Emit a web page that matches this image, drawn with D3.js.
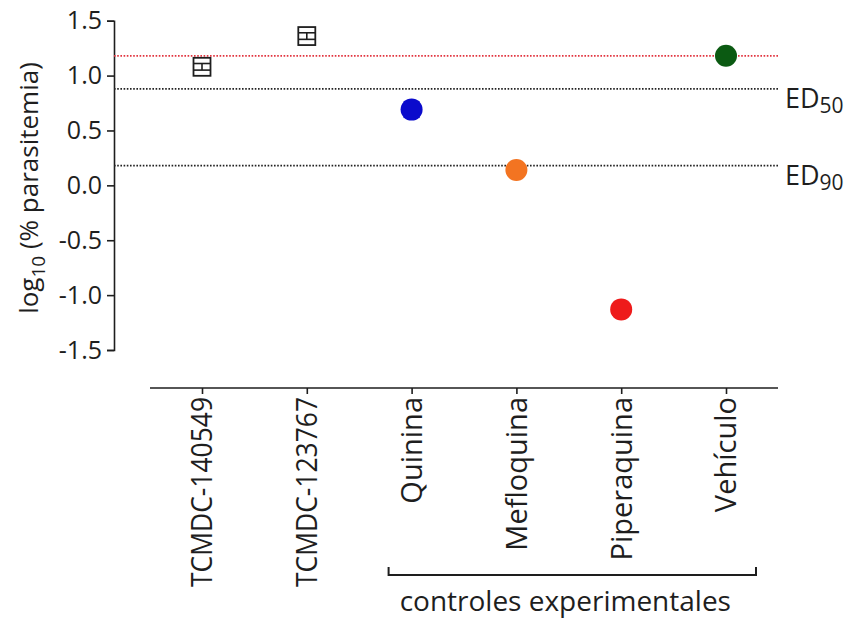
<!DOCTYPE html>
<html>
<head>
<meta charset="utf-8">
<script src="https://cdn.jsdelivr.net/npm/d3@7"></script>
<style>
  html, body { margin: 0; padding: 0; background: #fff; }
  svg { display: block; font-family: "Open Sans", "Noto Sans", sans-serif; }
</style>
</head>
<body>
<svg id="chart" width="848" height="618"></svg>
<script>
// Treatments along the x axis
const categories = ["TCMDC-140549", "TCMDC-123767", "Quinina", "Mefloquina", "Piperaquina", "Vehículo"];
// Mean log10(% parasitemia) per treatment
const means = [1.08, 1.36, 0.69, 0.14, -1.13, 1.18];
// Error (SEM) per treatment
const errors = [0.03, 0.03, 0.07, 0, 0, 0];
// Marker style per treatment
const markerShapes = ["square", "square", "circle", "circle", "circle", "circle"];
const markerColors = ["none", "none", "#0b0bcc", "#f37421", "#ee1b1b", "#0b5a12"];
// Y tick values and their labels
const yTicks = [1.5, 1.0, 0.5, 0.0, -0.5, -1.0, -1.5];
const yTickLabels = ["1.5", "1.0", "0.5", "0.0", "-0.5", "-1.0", "-1.5"];
// Reference levels: vehicle level, ED50 and ED90
const refLevels = [1.18, 0.879, 0.18];
const refNames = ["", "ED", "ED"];
const refSubs = ["", "50", "90"];
const refColors = ["#e2343f", "#222", "#222"];
// Categories grouped under the bracket
const groupStart = "Quinina", groupEnd = "Vehículo";
const groupLabel = "controles experimentales";

const svg = d3.select("#chart");
const ink = "#1e1e1e";

const y = d3.scaleLinear().domain([-1.5, 1.5]).range([350, 20.7]);
const x = d3.scalePoint().domain(categories).range([202, 726]);

// Y axis
const yAxis = d3.axisLeft(y).tickValues(yTicks)
  .tickFormat((d, i) => yTickLabels[i]).tickSizeOuter(0).tickSize(7).tickPadding(5);
const gy = svg.append("g").attr("transform", "translate(114,0)").call(yAxis);
gy.select(".domain").attr("stroke", ink).attr("stroke-width", 1.6);
gy.selectAll(".tick line").attr("stroke", ink).attr("stroke-width", 1.6);
gy.selectAll(".tick text").attr("fill", ink).style("font-size", "25px")
  .style("font-family", "'Open Sans', sans-serif");

// Y title with subscript
const yt = svg.append("text")
  .attr("transform", "translate(38,188) rotate(-90)")
  .attr("text-anchor", "middle").attr("fill", ink).style("font-size", "26px");
yt.append("tspan").text("log");
yt.append("tspan").text("10").attr("dy", 7).style("font-size", "19px");
yt.append("tspan").text(" (% parasitemia)").attr("dy", -7);

// X axis
const xAxis = d3.axisBottom(x).tickSize(6).tickSizeOuter(0).tickFormat("");
const gx = svg.append("g").attr("transform", "translate(0,388)").call(xAxis);
gx.select(".domain").attr("d", "M150,0H778").attr("stroke", ink).attr("stroke-width", 1.6);
gx.selectAll(".tick line").attr("stroke", ink).attr("stroke-width", 1.6);

// Rotated category labels (compound codes set a little tighter)
svg.append("g").selectAll("text").data(categories).join("text")
  .attr("transform", d => `translate(${x(d)},397) rotate(-90)`)
  .attr("text-anchor", "end").attr("dy", "0.36em")
  .attr("fill", ink).style("font-size", "29px")
  .each(function (d) {
    if (d.startsWith("TCMDC")) {
      d3.select(this).attr("textLength", 190).attr("lengthAdjust", "spacingAndGlyphs");
    }
  })
  .text(d => d);

// Reference lines
refLevels.forEach((v, i) => {
  svg.append("line")
    .attr("x1", 114).attr("x2", 778).attr("y1", y(v)).attr("y2", y(v))
    .attr("stroke", refColors[i]).attr("stroke-width", 1.8)
    .attr("stroke-dasharray", "1.6,1.6");
  if (refNames[i]) {
    const t = svg.append("text").attr("x", 785).attr("y", y(v) + 19)
      .attr("fill", ink).style("font-size", "27px");
    t.append("tspan").text(refNames[i]);
    t.append("tspan").text(refSubs[i]).attr("dy", 5).style("font-size", "21px");
  }
});

// Error bars
const bars = svg.append("g");
categories.forEach((c, i) => {
  if (!errors[i]) return;
  const cx = x(c), top = y(means[i] + errors[i]), bot = y(means[i] - errors[i]);
  const col = markerShapes[i] === "square" ? ink : markerColors[i];
  const half = markerShapes[i] === "square" ? 8.5 : 8;
  bars.append("line").attr("x1", cx).attr("x2", cx).attr("y1", top).attr("y2", bot)
    .attr("stroke", col).attr("stroke-width", 1.6);
  [top, bot].forEach(yy => bars.append("line")
    .attr("x1", cx - half).attr("x2", cx + half).attr("y1", yy).attr("y2", yy)
    .attr("stroke", col).attr("stroke-width", 1.6));
});

// Markers
const marks = svg.append("g");
categories.forEach((c, i) => {
  const cx = x(c), cy = y(means[i]);
  if (markerShapes[i] === "square") {
    marks.append("rect").attr("x", cx - 8.5).attr("y", cy - 9)
      .attr("width", 17).attr("height", 18)
      .attr("fill", "none").attr("stroke", ink).attr("stroke-width", 1.8);
  } else {
    marks.append("circle").attr("cx", cx).attr("cy", cy).attr("r", 11)
      .attr("fill", markerColors[i]);
  }
});

// Bracket grouping the controls
const bx1 = x(groupStart) - 23, bx2 = x(groupEnd) + 30, by = 575;
svg.append("path")
  .attr("d", `M${bx1},${by - 8}V${by}H${bx2}V${by - 8}`)
  .attr("fill", "none").attr("stroke", ink).attr("stroke-width", 2);
svg.append("text").attr("x", (bx1 + bx2) / 2 - 7).attr("y", 611)
  .attr("text-anchor", "middle").attr("fill", ink).style("font-size", "28px")
  .text(groupLabel);
</script>
</body>
</html>
